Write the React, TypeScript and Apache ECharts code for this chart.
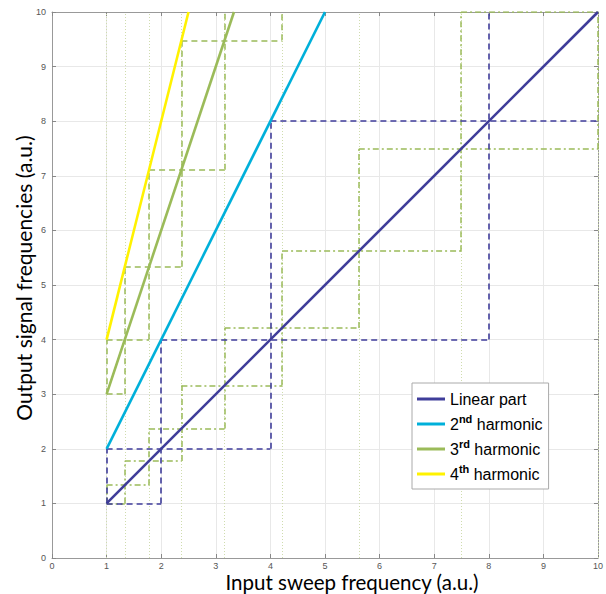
import React, { useEffect, useRef } from "react";
import * as echarts from "echarts";

// Main lines (input frequency -> output frequency)
const linearPart = [[1, 1], [10, 10]];
const harmonic2 = [[1, 2], [5, 10]];
const harmonic3 = [[1, 3], [3.333, 10]];
const harmonic4 = [[1, 4], [2.5, 10]];

// Octave steps (blue dashed)
const blueDashed = [
  [[1, 1], [2, 1]], [[1, 1], [1, 2]],
  [[1, 2], [4, 2]], [[2, 1], [2, 4]],
  [[2, 4], [8, 4]], [[4, 2], [4, 8]],
  [[4, 8], [10, 8]], [[8, 4], [8, 10]],
];

// 4/3 steps (green dash-dot around linear part)
const greenDashDot = [
  [[1, 1], [1.333, 1]], [[1, 1], [1, 1.333]],
  [[1, 1.333], [1.778, 1.333]], [[1.333, 1], [1.333, 1.778]],
  [[1.333, 1.778], [2.37, 1.778]], [[1.778, 1.333], [1.778, 2.37]],
  [[1.778, 2.37], [3.16, 2.37]], [[2.37, 1.778], [2.37, 3.16]],
  [[2.37, 3.16], [4.214, 3.16]], [[3.16, 2.37], [3.16, 4.214]],
  [[3.16, 4.214], [5.619, 4.214]], [[4.214, 3.16], [4.214, 5.619]],
  [[4.214, 5.619], [7.492, 5.619]], [[5.619, 4.214], [5.619, 7.492]],
  [[5.619, 7.492], [10, 7.492]], [[7.492, 5.619], [7.492, 10]],
  [[7.492, 10], [10, 10]], [[10, 7.492], [10, 10]],
];

// Steps near 3rd harmonic (green dashed)
const greenDashed = [
  [[1, 3], [1.333, 3]], [[1, 3], [1, 4]],
  [[1, 4], [1.778, 4]], [[1.333, 3], [1.333, 5.333]],
  [[1.333, 5.333], [2.37, 5.333]], [[1.778, 4], [1.778, 7.111]],
  [[1.778, 7.111], [3.16, 7.111]], [[2.37, 5.333], [2.37, 9.481]],
  [[2.37, 9.481], [4.214, 9.481]], [[3.16, 7.111], [3.16, 10]],
  [[4.214, 9.481], [4.214, 10]],
];

// Green dotted vertical markers
const stepMarks = [1, 1.333, 1.778, 2.37, 3.16, 4.214, 5.619, 7.492, 10];

const C_LIN = "#3F3D9A";
const C_H2 = "#00B0DA";
const C_H3 = "#9BBB59";
const C_H4 = "#FFF200";

export default function App() {
  const ref = useRef<HTMLDivElement>(null);
  useEffect(() => {
    if (!ref.current) return;
    const chart = echarts.init(ref.current, null, { renderer: "svg" });
    const axisCommon = {
      type: "value",
      min: 0,
      max: 10,
      interval: 1,
      axisLine: { show: true, onZero: false, lineStyle: { color: "#999", width: 1 } },
      axisTick: { show: true, inside: true, length: 4, lineStyle: { color: "#888" } },
    };
    const segs = (arr: number[][][]) => arr.map((c) => ({ coords: c }));
    chart.setOption({
      animation: false,
      backgroundColor: "#fff",
      grid: { left: 52, right: 6, top: 12, bottom: 36 },
      xAxis: [
        {
          ...axisCommon,
          position: "bottom",
          axisLabel: { fontSize: 9, color: "#555", margin: 3, lineHeight: 9, fontFamily: "Liberation Sans", showMinLabel: true, showMaxLabel: true },
          splitLine: { show: true, lineStyle: { color: "#e8e8e8", width: 1 } },
        },
        {
          ...axisCommon,
          position: "top",
          axisLabel: { show: false },
          splitLine: { show: false },
        },
      ],
      yAxis: [
        {
          ...axisCommon,
          position: "left",
          axisLabel: { fontSize: 9, color: "#555", margin: 6, fontFamily: "Liberation Sans", showMinLabel: true, showMaxLabel: true },
          splitLine: { show: true, lineStyle: { color: "#e8e8e8", width: 1 } },
        },
        {
          ...axisCommon,
          position: "right",
          axisLabel: { show: false },
          splitLine: { show: false },
        },
      ],
      legend: {
        orient: "vertical",
        left: 412,
        top: 383,
        padding: [5, 6, 4, 5],
        itemGap: 3,
        itemWidth: 28,
        itemHeight: 3,
        backgroundColor: "#fff",
        borderColor: "#aaa",
        borderWidth: 1,
        borderRadius: 0,
        data: [
          { name: "Linear part", icon: "rect" },
          { name: "2nd harmonic", icon: "rect" },
          { name: "3rd harmonic", icon: "rect" },
          { name: "4th harmonic", icon: "rect" },
        ],
        formatter: (name: string) => {
          const m = name.match(/^(\d)(nd|rd|th) (.*)$/);
          if (m) return `{n|${m[1]}}{sup|${m[2]}}{n| ${m[3]}}`;
          return `{n|${name}}`;
        },
        textStyle: {
          fontSize: 16,
          color: "#000",
          fontFamily: "Liberation Sans",
          lineHeight: 22,
          rich: {
            n: {
              fontSize: 16,
              fontFamily: "Liberation Sans",
              color: "#000",
              lineHeight: 22,
              verticalAlign: "middle",
            },
            sup: {
              fontSize: 11,
              fontWeight: "bold",
              fontFamily: "Liberation Sans",
              color: "#000",
              lineHeight: 12,
              verticalAlign: "top",
            },
          },
        },
      },
      graphic: [
        {
          type: "text",
          x: 352,
          y: 582,
          style: {
            text: "Input sweep frequency (a.u.)",
            fontSize: 20.5,
            lineHeight: 16,
            fontFamily: "Lato",
            fill: "#000",
            align: "center",
            verticalAlign: "middle",
            textAlign: "center",
            textVerticalAlign: "middle",
          },
        },
        {
          type: "text",
          x: 23,
          y: 278,
          rotation: Math.PI / 2,
          style: {
            text: "Output signal frequencies (a.u.)",
            fontSize: 21,
            fontFamily: "Lato",
            fill: "#000",
            align: "center",
            verticalAlign: "middle",
            textAlign: "center",
            textVerticalAlign: "middle",
          },
        },
      ],
      series: [
        {
          type: "lines",
          coordinateSystem: "cartesian2d",
          silent: true,
          z: 1,
          lineStyle: { color: "#cfdcae", width: 1, type: [1, 2], opacity: 1 },
          data: stepMarks.map((x) => ({ coords: [[x, 0], [x, 10]] })),
        },
        {
          type: "lines",
          coordinateSystem: "cartesian2d",
          silent: true,
          z: 2,
          lineStyle: { color: C_H3, width: 1.5, type: [6, 3, 2, 3], opacity: 1 },
          data: segs(greenDashDot),
        },
        {
          type: "lines",
          coordinateSystem: "cartesian2d",
          silent: true,
          z: 2,
          lineStyle: { color: C_H3, width: 1.5, type: [6, 4], opacity: 1 },
          data: segs(greenDashed),
        },
        {
          type: "lines",
          coordinateSystem: "cartesian2d",
          silent: true,
          z: 3,
          lineStyle: { color: C_LIN, width: 1.6, type: [6, 4], opacity: 1 },
          data: segs(blueDashed),
        },
        {
          name: "Linear part", type: "line", data: linearPart, showSymbol: false, z: 5,
          lineStyle: { color: C_LIN, width: 2.6 }, itemStyle: { color: C_LIN },
        },
        {
          name: "2nd harmonic", type: "line", data: harmonic2, showSymbol: false, z: 5,
          lineStyle: { color: C_H2, width: 2.6 }, itemStyle: { color: C_H2 },
        },
        {
          name: "3rd harmonic", type: "line", data: harmonic3, showSymbol: false, z: 5,
          lineStyle: { color: C_H3, width: 2.6 }, itemStyle: { color: C_H3 },
        },
        {
          name: "4th harmonic", type: "line", data: harmonic4, showSymbol: false, z: 5,
          lineStyle: { color: C_H4, width: 2.6 }, itemStyle: { color: C_H4 },
        },
      ],
    });
    return () => chart.dispose();
  }, []);
  return <div ref={ref} style={{ width: 606, height: 594, position: "absolute", left: 0, top: 0 }} />;
}
